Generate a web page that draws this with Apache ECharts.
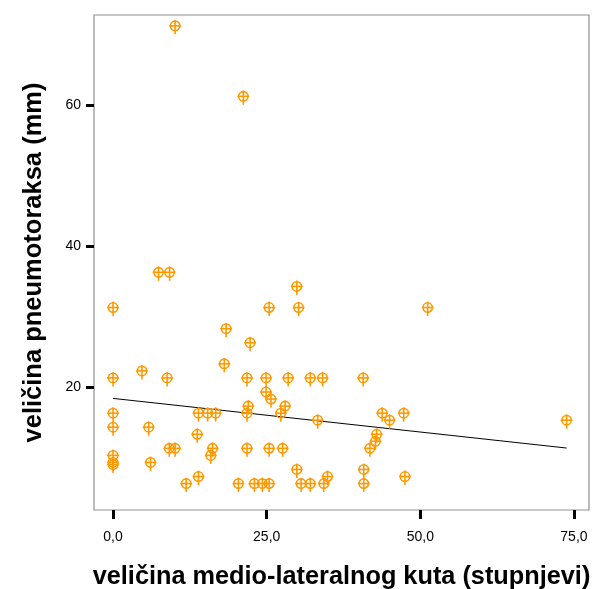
<!DOCTYPE html>
<html>
<head>
<meta charset="utf-8">
<script src="https://cdn.jsdelivr.net/npm/echarts@6/dist/echarts.min.js"></script>
<style>html,body{margin:0;padding:0;background:#fff}#c{width:601px;height:589px}</style>
</head>
<body>
<div id="c"></div>
<script>
// Data: medio-lateral angle (degrees) vs pneumothorax size (mm)
const angle = [10.1, 21.2, 7.4, 9.2, 29.9, 0, 25.4, 30.2, 51.2, 18.4, 22.3, 18.1, 4.7,
  0, 8.8, 21.8, 24.9, 28.5, 32.1, 34.1, 40.7, 24.9, 25.7, 22.0, 28.0,
  0, 13.9, 15.4, 16.7, 21.8, 27.3, 43.8, 47.3, 33.3, 45.0, 73.8, 0, 5.8,
  13.7, 42.9, 42.7, 9.15, 10.1, 16.2, 21.8, 25.4, 27.6, 41.8, 0, 15.9,
  0, 6.1, 0, 29.9, 40.8, 13.9, 34.9, 47.5, 11.9, 20.4, 23.0, 24.3, 25.4,
  30.6, 32.1, 34.3, 40.8];
const pneumo = [71, 61, 36, 36, 34, 31, 31, 31, 31, 28, 26, 23, 22,
  21, 21, 21, 21, 21, 21, 21, 21, 19, 18, 17, 17,
  16, 16, 16, 16, 16, 16, 16, 16, 15, 15, 15, 14, 14,
  13, 13, 12, 11, 11, 11, 11, 11, 11, 11, 10, 10,
  9, 9, 8.7, 8, 8, 7, 7, 7, 6, 6, 6, 6, 6,
  6, 6, 6, 6];
// Fit line endpoints
const fitX = [0, 73.8];
const fitY = [18.35, 11.3];
const xTicks = [0, 25, 50, 75];
const yTicks = [20, 40, 60];
const xTitle = 'veličina medio-lateralnog kuta (stupnjevi)';
const yTitle = 'veličina pneumotoraksa (mm)';

const points = angle.map((a, i) => [a, pneumo[i]]);
const fitData = fitX.map((x, i) => [x, fitY[i]]);
const orange = '#ff9900';
const font = '"Liberation Sans", Arial, Helvetica, sans-serif';

const chart = echarts.init(document.getElementById('c'), null, {renderer: 'canvas'});
chart.setOption({
  animation: false,
  backgroundColor: '#fff',
  grid: {left: 94, top: 15, right: 12, bottom: 79, show: true, borderColor: '#909090', borderWidth: 1.2, backgroundColor: '#fff', outerBoundsMode: 'none', containLabel: false},
  xAxis: {
    type: 'value', min: -3.1, max: 77.45,
    splitLine: {show: false},
    axisLine: {show: false, onZero: false},
    axisTick: {show: true, customValues: xTicks, length: 9, lineStyle: {color: '#000', width: 3}},
    axisLabel: {customValues: xTicks, margin: 20, fontSize: 14, color: '#000', fontFamily: font,
      formatter: v => v.toFixed(1).replace('.', ',')},
    name: xTitle, nameLocation: 'middle', nameGap: 55,
    nameTextStyle: {fontSize: 25.3, fontWeight: 'bold', color: '#000', fontFamily: font}
  },
  yAxis: {
    type: 'value', min: 2.5, max: 72.8,
    splitLine: {show: false},
    axisLine: {show: false, onZero: false},
    axisTick: {show: true, customValues: yTicks, length: 8, lineStyle: {color: '#000', width: 3}},
    axisLabel: {customValues: yTicks, margin: 13, fontSize: 14, color: '#000', fontFamily: font},
    name: yTitle, nameLocation: 'middle', nameGap: 47,
    nameTextStyle: {fontSize: 25.5, fontWeight: 'bold', color: '#000', fontFamily: font}
  },
  series: [
    {
      type: 'line', data: fitData, showSymbol: false, symbol: 'none', z: 1,
      lineStyle: {color: '#000', width: 1}
    },
    {
      type: 'custom', data: points, z: 2,
      renderItem: function (params, api) {
        const p = api.coord([api.value(0), api.value(1)]);
        const cx = p[0], cy = p[1] - 1.8;
        const st = {stroke: orange, lineWidth: 1.6, fill: null};
        return {type: 'group', children: [
          {type: 'circle', shape: {cx: cx, cy: cy, r: 4.7}, style: {stroke: orange, lineWidth: 1.6, fill: 'rgba(0,0,0,0)'}},
          {type: 'line', shape: {x1: cx - 5.9, y1: cy, x2: cx + 5.9, y2: cy}, style: st},
          {type: 'line', shape: {x1: cx, y1: cy - 5.9, x2: cx, y2: cy + 8.5}, style: st}
        ]};
      }
    }
  ]
});
</script>
</body>
</html>
